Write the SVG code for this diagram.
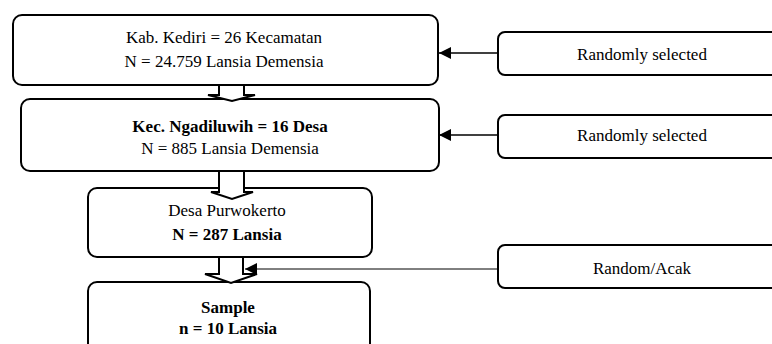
<svg xmlns="http://www.w3.org/2000/svg" width="772" height="344" viewBox="0 0 772 344">
<style>
.box{fill:#fff;stroke:#000;stroke-width:2}
.blk{fill:#fff;stroke:#000;stroke-width:2;stroke-linejoin:miter}
.t{font-family:"Liberation Serif","Times New Roman",serif;font-size:17px;fill:#000;text-anchor:middle}
.b{font-weight:bold}
.ln{stroke:#000;fill:none}
</style>
<defs>
<marker id="ah" viewBox="0 0 10 10" refX="10" refY="5" markerWidth="15" markerHeight="12" markerUnits="userSpaceOnUse" orient="auto">
<path d="M0,0 L10,5 L0,10 Z" fill="#000"/>
</marker>
</defs>
<rect width="772" height="344" fill="#fff"/>
<g id="n1">
<rect class="box" x="13" y="15" width="425" height="70" rx="9"/>
<text class="t" x="224" y="43">Kab. Kediri = 26 Kecamatan</text>
<text class="t" x="224" y="67">N = 24.759 Lansia Demensia</text>
</g>
<g id="n2">
<rect class="box" x="21" y="99" width="418" height="72" rx="9"/>
<text class="t b" x="230" y="132">Kec. Ngadiluwih = 16 Desa</text>
<text class="t" x="230" y="154">N = 885 Lansia Demensia</text>
</g>
<g id="n3">
<rect class="box" x="88" y="188" width="284" height="69" rx="9"/>
<text class="t" x="227" y="216">Desa Purwokerto</text>
<text class="t b" x="227" y="240">N = 287 Lansia</text>
</g>
<g id="n4">
<rect class="box" x="88" y="282" width="282" height="72" rx="9"/>
<text class="t b" x="228" y="313">Sample</text>
<text class="t b" x="228" y="334">n = 10 Lansia</text>
</g>
<g id="r1">
<rect class="box" x="498" y="32" width="300" height="43" rx="7"/>
<text class="t" x="642" y="60">Randomly selected</text>
</g>
<g id="r2">
<rect class="box" x="498" y="115" width="300" height="43" rx="7"/>
<text class="t" x="642" y="141">Randomly selected</text>
</g>
<g id="r3">
<rect class="box" x="498" y="245" width="300" height="43" rx="7"/>
<text class="t" x="642" y="274">Random/Acak</text>
</g>
<g id="connectors">
<polygon class="blk" points="219,85 244,85 244,95 255,95 232,101 208,95 219,95"/>
<polygon class="blk" points="219,171 244,171 244,192 253,192 232,199 211,192 219,192"/>
<polygon class="blk" points="219,257 243,257 243,274 257,274 231,283 205,274 219,274"/>
<line class="ln" x1="498" y1="53" x2="439" y2="53" stroke-width="1.5" marker-end="url(#ah)"/>
<line class="ln" x1="498" y1="135" x2="439" y2="135" stroke-width="1.5" marker-end="url(#ah)"/>
<line class="ln" x1="498" y1="269" x2="245" y2="269" stroke-width="1" marker-end="url(#ah)"/>
</g>
</svg>
